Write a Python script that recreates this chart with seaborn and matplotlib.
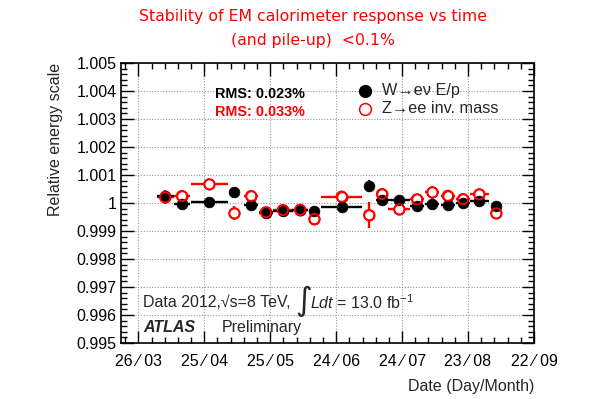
import matplotlib
matplotlib.use("Agg")
import matplotlib.pyplot as plt
import seaborn as sns
import numpy as np
import pandas as pd
from matplotlib.ticker import MultipleLocator, FixedLocator

# ---- data ----
# days since 26 March 2012
days = [12.2, 19.8, 32.3, 43.7, 51.3, 58.0, 65.7, 73.6, 80.1, 92.5,
        105.0, 110.8, 118.7, 126.7, 133.8, 140.8, 147.7, 155.1, 162.8]
days_err = [3.9, 3.6, 8.4, 2.3, 3.2, 3.2, 4.6, 3.6, 2.3, 9.3,
            1.8, 2.7, 5.0, 3.2, 3.2, 3.2, 3.2, 4.3, 1.4]
w_ep = [1.00025, 0.99997, 1.00005, 1.00038, 0.99994, 0.99964, 0.99970, 0.99975, 0.99970, 0.99984,
        1.00061, 1.00011, 1.00011, 0.99988, 0.99995, 0.99993, 0.99999, 1.00008, 0.99988]
w_ep_err = [0.00012, 0.00007, 0.00007, 0.00010, 0.00007, 0.00007, 0.00007, 0.00007, 0.00007, 0.00007,
            0.00022, 0.00007, 0.00007, 0.00007, 0.00007, 0.00007, 0.00007, 0.00007, 0.00015]
z_ee = [1.00020, 1.00025, 1.00067, 0.99963, 1.00025, 0.99967, 0.99975, 0.99976, 0.99943, 1.00023,
        0.99957, 1.00032, 0.99977, 1.00013, 1.00038, 1.00026, 1.00014, 1.00031, 0.99963]
z_ee_err = [0.00025, 0.00020, 0.00010, 0.00025, 0.00018, 0.00010, 0.00010, 0.00010, 0.00015, 0.00020,
            0.00047, 0.00018, 0.00010, 0.00015, 0.00022, 0.00020, 0.00015, 0.00012, 0.00020]
tick_days = [0, 30, 60, 90, 120, 150, 180]
tick_labels = ["26 \u2044 03", "25 \u2044 04", "25 \u2044 05", "24 \u2044 06",
               "24 \u2044 07", "23 \u2044 08", "22 \u2044 09"]
y_ticks = [0.995, 0.996, 0.997, 0.998, 0.999, 1.0, 1.001, 1.002, 1.003, 1.004, 1.005]
y_labels = ["0.995", "0.996", "0.997", "0.998", "0.999", "1", "1.001", "1.002", "1.003", "1.004", "1.005"]

df = pd.DataFrame({"day": days, "dx": days_err, "w": w_ep, "werr": w_ep_err,
                   "z": z_ee, "zerr": z_ee_err})

sns.set_theme(style="ticks")
plt.rcParams['font.family'] = ['Liberation Sans', 'DejaVu Sans']
plt.rcParams['mathtext.fontset'] = 'custom'
plt.rcParams['mathtext.rm'] = 'Liberation Sans'
plt.rcParams['mathtext.it'] = 'Liberation Sans:italic'

fig = plt.figure(figsize=(6.0, 3.99), dpi=100)
ax = fig.add_axes([121/600, 1-343/399, (534-121)/600, (343-63)/399])

RED = "#ff0000"
ax.errorbar(df["day"], df["z"], xerr=df["dx"], yerr=df["zerr"], fmt="none",
            ecolor=RED, elinewidth=1.7, capsize=0, zorder=2)
sns.scatterplot(data=df, x="day", y="z", ax=ax, marker="o", s=55,
                facecolor="white", edgecolor=RED, linewidth=1.3, zorder=3, legend=False)
ax.errorbar(df["day"], df["w"], xerr=df["dx"], yerr=df["werr"], fmt="none",
            ecolor="black", elinewidth=1.7, capsize=0, zorder=4)
sns.scatterplot(data=df, x="day", y="w", ax=ax, marker="o", s=60,
                color="black", edgecolor="black", linewidth=0.5, zorder=5, legend=False)
sns.scatterplot(data=df, x="day", y="z", ax=ax, marker="o", s=55,
                facecolor="none", edgecolor=RED, linewidth=1.3, zorder=6, legend=False)

ax.set_xlim(-7.9, 180)
ax.set_ylim(0.995, 1.005)
ax.xaxis.set_major_locator(FixedLocator(tick_days))
ax.set_xticklabels(tick_labels)
ax.xaxis.set_minor_locator(MultipleLocator(6))
ax.yaxis.set_major_locator(FixedLocator(y_ticks))
ax.set_yticklabels(y_labels)
ax.yaxis.set_minor_locator(MultipleLocator(0.0002))

ax.tick_params(which="both", direction="in", top=True, right=True, colors="black",
               labelsize=11.5, pad=3)
ax.tick_params(which="major", length=9, width=1)
ax.tick_params(which="minor", length=4.5, width=1)
ax.tick_params(axis="x", pad=8)
for sp in ax.spines.values():
    sp.set_color("black")
    sp.set_linewidth(1.2)
ax.grid(True, which="major", color="#999999", linestyle=(0, (1, 1.5)), linewidth=0.8)
ax.set_axisbelow(True)

ax.set_xlabel("Date (Day/Month)", fontsize=11.5, ha="right", x=1.0, labelpad=7)
ax.set_ylabel("Relative energy scale", fontsize=11.5, ha="right", y=1.0, labelpad=10)

# title
fig.text(0.522, 1-16/399, "Stability of EM calorimeter response vs time", color=RED,
         ha="center", va="center", fontsize=11.3, family="DejaVu Sans")
fig.text(0.522, 1-40/399, "(and pile-up)  <0.1%", color=RED,
         ha="center", va="center", fontsize=11.3, family="DejaVu Sans")

# RMS texts
ax.text(0.228, 0.889, "RMS: 0.023%", transform=ax.transAxes, fontsize=10.4,
        fontweight="bold", va="center", ha="left", color="black")
ax.text(0.228, 0.825, "RMS: 0.033%", transform=ax.transAxes, fontsize=10.4,
        fontweight="bold", va="center", ha="left", color=RED)

# legend (manual)
ax.plot([0.591], [0.9], transform=ax.transAxes, marker="o", ms=8.5, color="black", ls="none")
ax.plot([0.591], [0.836], transform=ax.transAxes, marker="o", ms=8.5, mfc="none",
        mec=RED, mew=1.1, ls="none")
ax.text(0.632, 0.9, "W\u2192e\u03bd E/p", transform=ax.transAxes, fontsize=11.7,
        va="center", ha="left")
ax.text(0.632, 0.836, "Z\u2192ee inv. mass", transform=ax.transAxes, fontsize=11.7,
        va="center", ha="left")

# bottom texts
ax.text(0.053, 0.143, "Data 2012,\u221as=8 TeV,",
        transform=ax.transAxes, fontsize=11.5, va="center", ha="left")
ax.text(0.441, 0.147, "\u222b", transform=ax.transAxes, fontsize=23, va="center",
        ha="center", family="DejaVu Sans")
ax.text(0.4586, 0.143, r"$Ldt$ = 13.0 fb$^{-1}$",
        transform=ax.transAxes, fontsize=11.5, va="center", ha="left")
ax.text(0.053, 0.055, "ATLAS", transform=ax.transAxes, fontsize=11.5, fontweight="bold",
        style="italic", va="center", ha="left")
ax.text(0.243, 0.055, "Preliminary", transform=ax.transAxes, fontsize=11.5,
        va="center", ha="left")

fig.savefig("out.png", dpi=100, facecolor="white")
